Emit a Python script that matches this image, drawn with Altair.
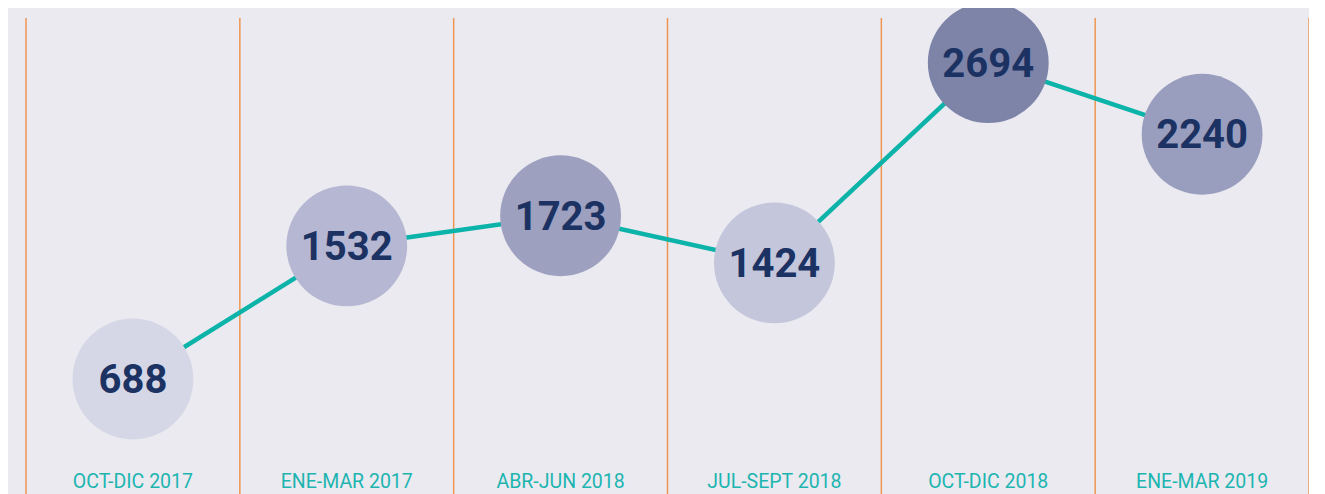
import altair as alt
import pandas as pd

categories = ["OCT-DIC 2017", "ENE-MAR 2017", "ABR-JUN 2018", "JUL-SEPT 2018", "OCT-DIC 2018", "ENE-MAR 2019"]
values = [688, 1532, 1723, 1424, 2694, 2240]

df = pd.DataFrame({
    "cat": categories,
    "value": values,
    "idx": [i + 0.5 for i in range(len(categories))],
})
bounds = pd.DataFrame({"b": list(range(len(categories) + 1))})

xs = alt.Scale(domain=[0, len(categories)], nice=False, zero=False)
ys = alt.Scale(domain=[-41, 2977], nice=False, zero=False)

x = alt.X("idx:Q", scale=xs, axis=None)
y = alt.Y("value:Q", scale=ys, axis=None)

rules = alt.Chart(bounds).mark_rule(color="#EE9552", strokeWidth=1.5).encode(
    x=alt.X("b:Q", scale=xs, axis=None),
    y=alt.value(0),
    y2=alt.value(476),
)

line = alt.Chart(df).mark_line(color="#0BB3A9", strokeWidth=4.5).encode(x=x, y=y)

circles = alt.Chart(df).mark_circle(size=14600, opacity=1).encode(
    x=x, y=y,
    color=alt.Color(
        "value:Q",
        scale=alt.Scale(
            domain=[688, 1424, 1532, 1723, 2240, 2694],
            range=["#D5D7E6", "#C4C6DB", "#B6B8D3", "#9DA0BF", "#9A9EBE", "#7D84A8"],
        ),
        legend=None,
    ),
)

nums = alt.Chart(df).mark_text(
    font="Roboto", fontWeight="bold", fontSize=40, color="#1B3263", baseline="middle", dy=2
).encode(x=x, y=y, text=alt.Text("value:Q", format="d"))

labels = alt.Chart(df).mark_text(
    font="Roboto", fontSize=19.5, color="#1DB5B0", baseline="middle"
).encode(x=x, y=alt.value(464), text="cat:N")

chart = alt.layer(rules, line, circles, nums, labels).properties(
    width=1283, height=476,
    padding={"left": 18, "top": 10, "right": 0, "bottom": 0},
    autosize=alt.AutoSizeParams(type="none"),
    background="#EBEAF1",
).configure_view(stroke=None)

chart.save("out.html", embed_options={"renderer": "svg", "actions": False})
